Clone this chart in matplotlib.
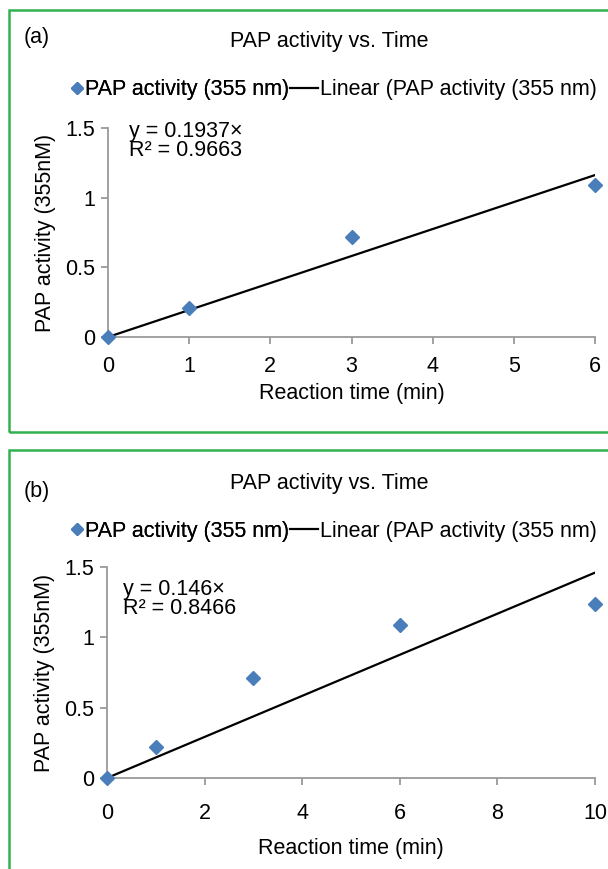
import numpy as np
import matplotlib.pyplot as plt
from matplotlib.lines import Line2D
from matplotlib.patches import Rectangle

plt.rcParams["font.family"] = ["Liberation Sans", "DejaVu Sans"]
FS = 15.5

# panel (a)
time_a = [0, 1, 3, 6]
activity_a = [0.0, 0.21, 0.72, 1.09]
slope_a = 0.1937
r2_a = 0.9663

# panel (b)
time_b = [0, 1, 3, 6, 10]
activity_b = [0.0, 0.22, 0.71, 1.09, 1.24]
slope_b = 0.146
r2_b = 0.8466

W, H = 608, 869
blue = "#4a7ebb"
green = "#33b04f"
grey = "#9a9a9a"


def fx(px):
    return px / W


def fy(py):
    return 1 - py / H


def panel(fig, label, top, bottom, lab_y, title_y, leg_y, eq_xy, ax_box,
          t, act, slope, r2, xticks, xpad, xlabpad):
    # green frame around the panel
    fig.patches.append(Rectangle((fx(9), fy(bottom)), 1.0, (bottom - top) / H,
                                 transform=fig.transFigure, fill=False,
                                 edgecolor=green, lw=1.8))
    fig.text(fx(24), fy(lab_y), label, ha="left", va="center", fontsize=FS)
    fig.text(fx(329), fy(title_y), "PAP activity vs. Time", ha="center",
             va="center", fontsize=FS)

    ax = fig.add_axes(ax_box)
    ax.plot(t, act, "D", color=blue, ms=7, clip_on=False, zorder=3)
    xs = np.array([0, t[-1]])
    ax.plot(xs, slope * xs, color="black", lw=1.6, zorder=2)

    ax.set_xlim(0, t[-1])
    ax.set_ylim(0, 1.5)
    ax.set_xticks(xticks)
    ax.set_yticks([0, 0.5, 1, 1.5])
    ax.set_yticklabels(["0", "0.5", "1", "1.5"])
    for s in ["top", "right"]:
        ax.spines[s].set_visible(False)
    for s in ["left", "bottom"]:
        ax.spines[s].set_color(grey)
        ax.spines[s].set_linewidth(1.3)
    ax.tick_params(color=grey, length=5, width=1.3, labelsize=FS)
    ax.tick_params(axis="x", pad=xpad)
    ax.tick_params(axis="y", pad=4)
    ax.set_xlabel("Reaction time (min)", fontsize=FS, labelpad=xlabpad)
    ax.set_ylabel("PAP activity (355nM)", fontsize=FS, labelpad=7)
    fig.text(fx(eq_xy[0]), fy(eq_xy[1]), f"y = {slope}\u00d7\nR\u00b2 = {r2}",
             ha="left", va="top", fontsize=FS, linespacing=0.9)

    h1 = Line2D([], [], marker="D", color=blue, ls="none", ms=6)
    h2 = Line2D([], [], color="black", lw=1.6)
    leg1 = fig.legend([h1], ["PAP activity (355 nm)"], frameon=False,
                      loc="center left", bbox_to_anchor=(fx(72), fy(leg_y)),
                      handlelength=0.5, handletextpad=0.1, borderpad=0,
                      borderaxespad=0, fontsize=FS)
    fig.legend([h2], ["Linear (PAP activity (355 nm)"], frameon=False,
               loc="center left", bbox_to_anchor=(fx(290), fy(leg_y)),
               handlelength=1.3, handletextpad=0.1, borderpad=0,
               borderaxespad=0, fontsize=FS)
    fig.add_artist(leg1)
    return ax


def main():
    fig = plt.figure(figsize=(W / 100, H / 100), dpi=100)

    panel(fig, "(a)", 10, 432, 38, 42, 90, (129, 121),
          [fx(108), fy(337), fx(595 - 108), (337 - 128) / H],
          time_a, activity_a, slope_a, r2_a, [0, 1, 2, 3, 4, 5, 6], 9, 4)
    panel(fig, "(b)", 450, 900, 492, 484, 531, (123, 579),
          [fx(107), fy(778), fx(595 - 107), (778 - 567) / H],
          time_b, activity_b, slope_b, r2_b, [0, 2, 4, 6, 8, 10], 13, 10)

    fig.savefig("out.png", dpi=100)


if __name__ == "__main__":
    main()
